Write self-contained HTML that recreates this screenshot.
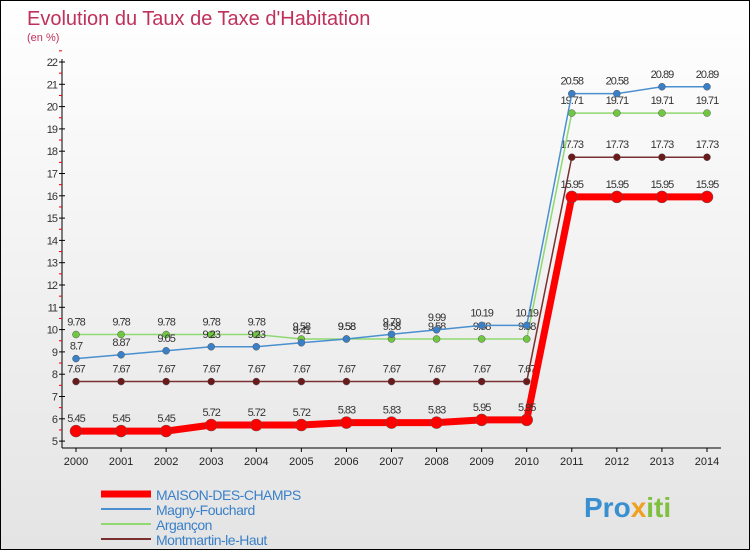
<!DOCTYPE html>
<html><head><meta charset="utf-8"><style>
body{margin:0;width:750px;height:550px;overflow:hidden;font-family:"Liberation Sans",sans-serif}
#c{position:absolute;left:0;top:0;width:748px;height:548px;border:1px solid #000;background:linear-gradient(#fff,#e4e4e4)}
</style></head><body>
<div id="c">
<svg id="s" width="748" height="548" xmlns="http://www.w3.org/2000/svg">
<text x="26" y="24" font-size="20" fill="#c0305a">Evolution du Taux de Taxe d'Habitation</text>
<text x="26" y="40" font-size="11" fill="#c0305a">(en %)</text>
<g id="axes"></g><g id="series"></g><g id="legend"></g>
<text x="583" y="516" font-size="28" font-weight="bold" fill="#3a8fd0">Pro<tspan fill="#f0a020">x</tspan><tspan fill="#80c040">iti</tspan></text>
</svg></div>
<script>
const years=[2000,2001,2002,2003,2004,2005,2006,2007,2008,2009,2010,2011,2012,2013,2014];
const maison=[5.45,5.45,5.45,5.72,5.72,5.72,5.83,5.83,5.83,5.95,5.95,15.95,15.95,15.95,15.95];
const magny=[8.7,8.87,9.05,9.23,9.23,9.41,9.58,9.79,9.99,10.19,10.19,20.58,20.58,20.89,20.89];
const argancon=[9.78,9.78,9.78,9.78,9.78,9.58,9.58,9.58,9.58,9.58,9.58,19.71,19.71,19.71,19.71];
const montmartin=[7.67,7.67,7.67,7.67,7.67,7.67,7.67,7.67,7.67,7.67,7.67,17.73,17.73,17.73,17.73];
const yTicks=[5,6,7,8,9,10,11,12,13,14,15,16,17,18,19,20,21,22];
const NS="http://www.w3.org/2000/svg";
const X=i=>75+i*(631/14), Y=v=>61+(22-v)*22.3;
function mk(t,a,p){const e=document.createElementNS(NS,t);for(const k in a)e.setAttribute(k,a[k]);p.appendChild(e);return e;}
const ax=document.getElementById('axes');
let e=mk('line',{x1:61,y1:58,x2:61,y2:447,stroke:'#000'},ax);


e=mk('line',{x1:61,y1:447,x2:720,y2:447,stroke:'#000'},ax);


yTicks.forEach(v=>{
 mk('line',{x1:58,x2:64,y1:Y(v),y2:Y(v),stroke:'#000'},ax);
 mk('line',{x1:58,x2:61,y1:Y(v+0.5),y2:Y(v+0.5),stroke:'#e00'},ax);
 const t=mk('text',{x:56,y:Y(v)+4,'text-anchor':'end','font-size':11,fill:'#333','letter-spacing':'-1'},ax);t.textContent=v;
 
 
});
years.forEach((y,i)=>{
 mk('line',{x1:X(i),x2:X(i),y1:447,y2:451,stroke:'#000'},ax);
 const t=mk('text',{x:X(i),y:464,'text-anchor':'middle','font-size':11,fill:'#222'},ax);t.textContent=y;
 
 
});
const sg=document.getElementById('series');
function draw(d,col,dot,w,r,name){
 const g=mk('g',{},sg);
 
 
 mk('polyline',{points:d.map((v,i)=>X(i)+','+Y(v)).join(' '),fill:'none',stroke:col,'stroke-width':w},g);
 d.forEach((v,i)=>{
  const c=mk('circle',{cx:X(i),cy:Y(v),r:r,fill:dot,stroke:'#555','stroke-width':0.5},g);
  
  
  const t=mk('text',{x:X(i),y:Y(v)-9,'text-anchor':'middle','font-size':11,fill:'#333','letter-spacing':'-1'},g);t.textContent=v;
  
  
 });
}
draw(montmartin,'#7a3030','#6a1a1a',1.5,3.5,'montmartin');
draw(argancon,'#90d870','#70c840',1.5,3.5,'argancon');
draw(magny,'#4a90d0','#3a80c8',1.5,3.5,'magny');
draw(maison,'#ff0000','#ff0000',7,6,'maison');
const lg=document.getElementById('legend');
[['MAISON-DES-CHAMPS','#ff0000',7],['Magny-Fouchard','#4a90d0',2],['Argançon','#90d870',2],['Montmartin-le-Haut','#7a3030',2]].forEach((l,i)=>{
 const y=493+i*15;
 const g=mk('g',{},lg);
 
 
 mk('line',{x1:100,x2:150,y1:y,y2:y,stroke:l[1],'stroke-width':l[2]},g);
 const t=mk('text',{x:155,y:y+6,'font-size':14,fill:'#3a80c8','letter-spacing':'-0.5'},g);t.textContent=l[0];
});
</script>
</body></html>
